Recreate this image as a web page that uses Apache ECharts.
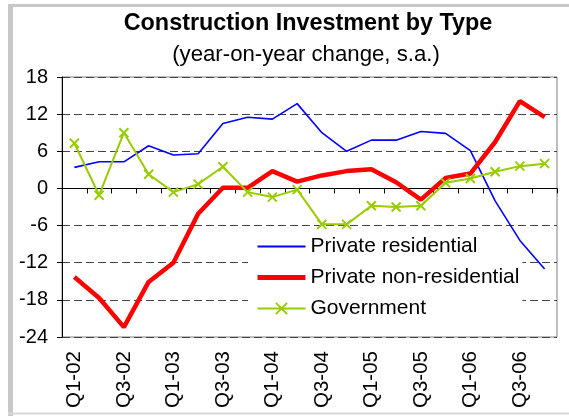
<!DOCTYPE html>
<html>
<head>
<meta charset="utf-8">
<script src="https://cdn.jsdelivr.net/npm/echarts@6/dist/echarts.min.js"></script>
<style>html,body{margin:0;padding:0;background:#fff;}#c{width:569px;height:416px;}</style>
</head>
<body>
<div id="c"></div>
<script>
var titleText = 'Construction Investment by Type';
var subtitleText = '(year-on-year change, s.a.)';
var categories = ['Q1-02','Q2-02','Q3-02','Q4-02','Q1-03','Q2-03','Q3-03','Q4-03','Q1-04','Q2-04','Q3-04','Q4-04','Q1-05','Q2-05','Q3-05','Q4-05','Q1-06','Q2-06','Q3-06','Q4-06'];
var seriesNames = ['Private residential','Private non-residential','Government'];
var residential = [3.4, 4.3, 4.3, 6.9, 5.4, 5.6, 10.5, 11.5, 11.2, 13.7, 9.0, 6.0, 7.8, 7.8, 9.2, 8.9, 6.1, -2.0, -8.4, -13.0];
var nonResidential = [-14.3, -17.7, -22.4, -15.1, -12.0, -4.1, 0.1, 0.1, 2.8, 1.1, 2.1, 2.8, 3.1, 1.0, -1.8, 1.7, 2.4, 7.5, 14.1, 11.5];
var government = [7.3, -1.1, 9.0, 2.3, -0.6, 0.7, 3.5, -0.6, -1.4, -0.2, -5.8, -5.8, -2.8, -3.0, -2.8, 0.9, 1.6, 2.7, 3.6, 4.0];
var yMin = -24, yMax = 18, yStep = 6;

var FONT = 'Liberation Sans, Arial, sans-serif';
var chart = echarts.init(document.getElementById('c'), null, {renderer: 'canvas'});
chart.setOption({
  animation: false,
  backgroundColor: '#ffffff',
  textStyle: {fontFamily: FONT},
  title: [
    {text: titleText, left: 308, top: 12, padding: 0, textAlign: 'center',
     textStyle: {fontFamily: FONT, fontSize: 23.4, fontWeight: 'bold', color: '#000'}},
    {text: subtitleText, left: 306, top: 44, padding: 0, textAlign: 'center',
     textStyle: {fontFamily: FONT, fontSize: 22.2, fontWeight: 'normal', color: '#000'}}
  ],
  graphic: [
    {type: 'line', silent: true, shape: {x1: 10.5, y1: 4, x2: 10.5, y2: 416}, style: {stroke: '#c8c8c8', lineWidth: 5}},
    {type: 'line', silent: true, shape: {x1: 8, y1: 5.5, x2: 569, y2: 5.5}, style: {stroke: '#c8c8c8', lineWidth: 3}},
    {type: 'line', silent: true, shape: {x1: 8, y1: 413.5, x2: 569, y2: 413.5}, style: {stroke: '#d8d8d8', lineWidth: 2}}
  ],
  grid: {left: 62, right: 12, top: 77, bottom: 79, show: true, borderColor: '#808080', borderWidth: 1, backgroundColor: 'transparent'},
  legend: {
    orient: 'vertical', left: 248, top: 232, z: 1,
    data: [
      {name: seriesNames[0], itemStyle: {opacity: 0}, lineStyle: {width: 2}},
      {name: seriesNames[1], itemStyle: {opacity: 0}, lineStyle: {width: 5}},
      {name: seriesNames[2], lineStyle: {width: 2}}
    ],
    backgroundColor: '#ffffff',
    padding: [4, 3, 4, 7],
    itemWidth: 48, itemHeight: 14, itemGap: 10,
    textStyle: {fontFamily: FONT, fontSize: 21, color: '#000', lineHeight: 21, padding: [0, 0, 0, 0]}
  },
  xAxis: {
    type: 'category', data: categories, boundaryGap: true,
    axisLine: {lineStyle: {color: '#000', width: 1}},
    axisTick: {show: true, interval: 0, length: 5, lineStyle: {color: '#000'}},
    axisLabel: {interval: 1, rotate: 90, margin: 14, fontFamily: FONT, fontSize: 20.5, color: '#000'},
    splitLine: {show: false}
  },
  yAxis: {
    type: 'value', min: yMin, max: yMax, interval: yStep,
    axisLine: {show: true, lineStyle: {color: '#000', width: 1}},
    axisTick: {show: true, inside: false, length: 5, lineStyle: {color: '#000'}},
    axisLabel: {margin: 14, fontFamily: FONT, fontSize: 20, color: '#000'},
    splitLine: {show: true, lineStyle: {color: '#444', width: 1, type: [8, 4]}}
  },
  series: [
    {name: seriesNames[0], type: 'line', data: residential, symbol: 'none', z: 3,
     lineStyle: {color: '#0000ff', width: 1.6}, itemStyle: {color: '#0000ff'}},
    {name: seriesNames[1], type: 'line', data: nonResidential, symbol: 'none', z: 3,
     lineStyle: {color: '#ff0000', width: 4.5}, itemStyle: {color: '#ff0000'}},
    {name: seriesNames[2], type: 'line', data: government, z: 4,
     symbol: 'path://M0,0L10,10M10,0L0,10', symbolSize: 9,
     lineStyle: {color: '#99cc00', width: 2},
     itemStyle: {color: 'rgba(0,0,0,0)', borderColor: '#99cc00', borderWidth: 2}}
  ]
});
</script>
</body>
</html>
